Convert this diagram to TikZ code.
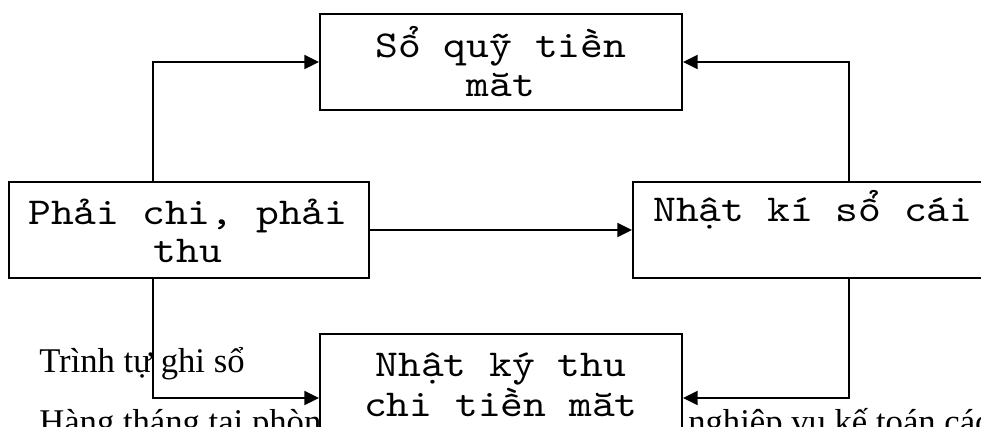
\documentclass[tikz,border=0pt]{standalone}
\usepackage{fontspec}
\setmainfont{Liberation Serif}
\newfontfamily\boxfont{lmmono10-regular.otf}[FakeStretch=1.143]
\usetikzlibrary{arrows.meta}

\tikzset{
  box/.style={draw, line width=1.5pt, fill=white, rectangle, inner sep=0pt},
  boxtext/.style={anchor=base, inner sep=0pt, font=\boxfont\fontsize{28.5}{30}\selectfont},
  bodytext/.style={anchor=base west, inner sep=0pt, font=\fontsize{26}{30}\selectfont},
  flow/.style={line width=1.5pt, -{Triangle[length=11pt,width=10.5pt]}}
}

\begin{document}
\begin{tikzpicture}[x=0.75pt, y=-0.75pt]
  % page frame
  \path[use as bounding box] (0,0) rectangle (981,427);
  \clip (0,0) rectangle (981,427);

  % running text of the page, partly covered by the boxes
  \node[bodytext] (para1) at (39,373) {Trình tự ghi sổ};
  \node[bodytext] (para2a) at (39,433) {Hàng tháng tại phòng};
  \node[bodytext] (para2b) at (688,433) {nghiệp vụ kế toán các};

  % boxes
  \node[box, minimum width=271.5pt, minimum height=72pt] (top) at (501,62) {};
  \node[box, minimum width=270pt, minimum height=72pt] (left) at (189,230) {};
  \node[box, minimum width=270pt, minimum height=72pt] (right) at (813,230) {};
  \node[box, minimum width=271.5pt, minimum height=96pt] (bot) at (501,398) {};

  % box captions
  \node[boxtext] (top1) at (501,58) {Sổ quỹ tiền};
  \node[boxtext] (top2) at (501,97) {măt};
  \node[boxtext] (left1) at (188,225) {Phải chi, phải};
  \node[boxtext] (left2) at (188,263) {thu};
  \node[boxtext] (right1) at (813,222) {Nhật kí sổ cái};
  \node[boxtext] (bot1) at (501,377) {Nhật ký thu};
  \node[boxtext] (bot2) at (501,416) {chi tiền măt};

  % x positions of the vertical runs
  \coordinate (lx) at (153,0);
  \coordinate (rx) at (849,0);

  % connectors
  \draw[flow] (left.north -| lx) |- (top.west);
  \draw[flow] (right.north -| rx) |- (top.east);
  \draw[flow] (left.east) -- (left.east -| right.west);
  \draw[flow] (left.south -| lx) |- (bot.west);
  \draw[flow] (right.south -| rx) |- (bot.east);
\end{tikzpicture}
\end{document}
